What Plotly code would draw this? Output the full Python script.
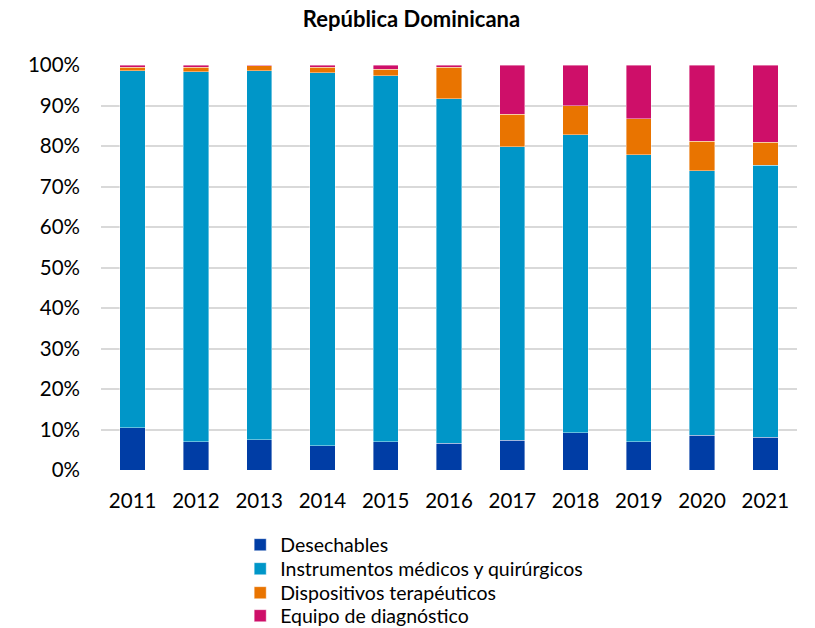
import plotly.graph_objects as go

years = ['2011', '2012', '2013', '2014', '2015', '2016', '2017', '2018', '2019', '2020', '2021']

# shares in % of each year's total
desechables = [10.4, 7.0, 7.5, 6.0, 7.0, 6.6, 7.3, 9.2, 7.0, 8.6, 8.1]
instrumentos = [88.2, 91.3, 91.1, 92.1, 90.4, 85.1, 72.5, 73.6, 70.8, 65.3, 67.1]
dispositivos = [0.8, 1.1, 1.2, 1.3, 1.5, 7.7, 8.0, 7.2, 8.9, 7.3, 5.7]
equipo = [0.6, 0.6, 0.2, 0.6, 1.1, 0.6, 12.2, 10.0, 13.3, 18.8, 19.1]

FONT = 'Lato'
W, H = 807, 620  # page body adds an 8px margin

series = [
    ('Desechables', desechables, '#003DA5'),
    ('Instrumentos médicos y quirúrgicos', instrumentos, '#0096C8'),
    ('Dispositivos terapéuticos', dispositivos, '#E97400'),
    ('Equipo de diagnóstico', equipo, '#CE0F69'),
]

# one legend per item so the rows sit 24px apart like the original
legend_rows = [537, 561, 585, 608]

fig = go.Figure()
legends = {}
for i, (name, vals, color) in enumerate(series):
    key = 'legend' if i == 0 else f'legend{i + 1}'
    fig.add_trace(go.Bar(
        x=years, y=vals, name=name, marker_color=color, legend=key,
        marker_line=dict(color='rgba(255,255,255,0.5)', width=0.8),
        hovertemplate='%{x}: %{y:.1f}%<extra>' + name + '</extra>'
    ))
    legends[key] = dict(
        x=0.2, xanchor='left', yref='container', y=1 - legend_rows[i] / H,
        yanchor='middle', font=dict(family=FONT, size=19.5), itemwidth=30,
        bgcolor='rgba(0,0,0,0)'
    )

fig.update_layout(
    barmode='stack', bargap=0.6,
    width=W, height=H,
    plot_bgcolor='white', paper_bgcolor='white',
    margin={'t': 57, 'r': 18, 'b': 158, 'l': 93, 'autoexpand': False},
    font=dict(family=FONT, size=20.5, color='#000000'),
    title=dict(text='<b>República Dominicana</b>', x=0.5, xanchor='center',
               yref='container', y=1 - 4 / H, yanchor='top',
               font=dict(family=FONT, size=22)),
    xaxis=dict(showgrid=False, showline=False, ticks='', automargin=False,
               ticklabelstandoff=16, tickfont=dict(size=20.5)),
    yaxis=dict(range=[0, 100], dtick=10, ticksuffix='%', showgrid=True,
               gridcolor='#D9D9D9', gridwidth=1.5, zeroline=False, automargin=False,
               showline=False, ticks='', ticklabelstandoff=20, tickfont=dict(size=20.5)),
    showlegend=True,
    **legends
)

fig.write_html('out.html')
